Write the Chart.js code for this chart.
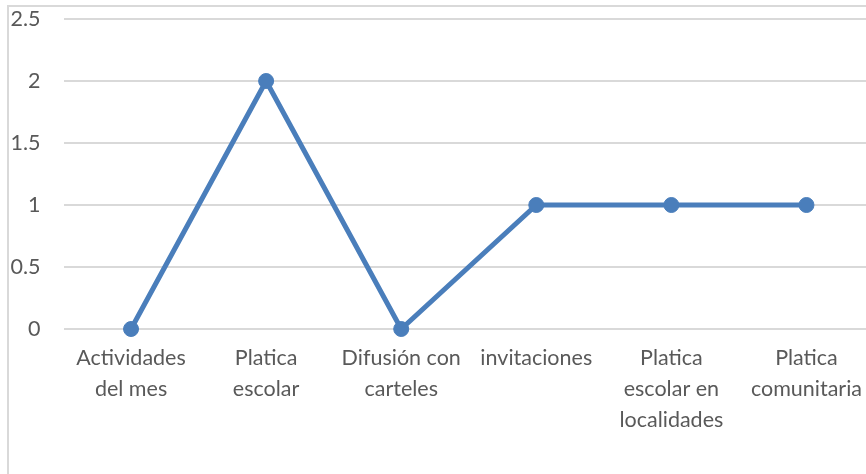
<!DOCTYPE html>
<html><head><meta charset="utf-8">
<script src="https://cdn.jsdelivr.net/npm/chart.js@4"></script>
<style>
html,body{margin:0;padding:0;width:866px;height:474px;overflow:hidden;background:#fff;}
#frame{position:absolute;left:7px;top:5px;width:1000px;height:1000px;border:2px solid #d9d9d9;box-sizing:border-box;}
#wrap{position:absolute;left:0;top:0;width:884px;height:474px;}
</style></head><body>
<div id="frame"></div>
<div id="wrap"><canvas id="c" width="884" height="474"></canvas></div>
<script>
const categories = [["Actividades","del mes"], ["Platica","escolar"], ["Difusión con","carteles"], "invitaciones", ["Platica","escolar en","localidades"], ["Platica","comunitaria"]];
const values = [0, 2, 0, 1, 1, 1];
const yMin = 0, yMax = 2.5, yStep = 0.5;

const chart = new Chart(document.getElementById('c'), {
  type: 'line',
  data: { labels: categories, datasets: [{
    data: values, borderColor: '#4a7ebb', backgroundColor: '#4a7ebb',
    borderWidth: 5, pointRadius: 7.5, pointHoverRadius: 7.5, pointBorderWidth: 1,
    tension: 0, fill: false, clip: false
  }]},
  options: {
    responsive: false, animation: false,
    layout: { padding: { top: 19, right: 10, bottom: 0, left: 0 } },
    plugins: { legend: { display: false }, tooltip: { enabled: false } },
    scales: {
      x: { offset: true, grid: { display: false, drawTicks: false }, border: { display: false },
        ticks: { color: '#595959', font: { family: 'Lato', size: 21.5, lineHeight: 1.43 }, padding: 14, maxRotation: 0, autoSkip: false },
        afterFit: s => { s.height = 145; s.paddingLeft = 0; s.paddingRight = 0; } },
      y: { min: yMin, max: yMax, grid: { color: '#d9d9d9', lineWidth: 2, drawTicks: false }, border: { display: false },
        ticks: { stepSize: yStep, color: '#595959', font: { family: 'Lato', size: 21.5 }, padding: 23,
          callback: v => String(Math.round(v * 10) / 10) },
        afterFit: s => { s.width = 63.5; s.paddingTop = 0; s.paddingBottom = 0; } }
    }
  }
});
</script>
</body></html>
